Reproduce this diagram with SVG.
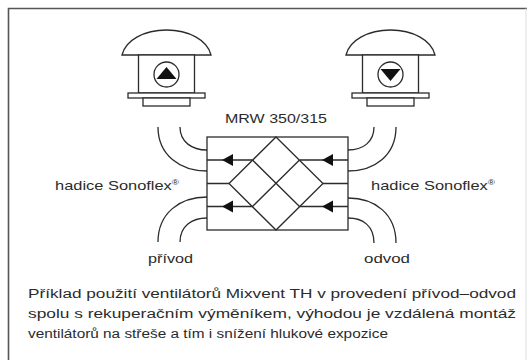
<svg xmlns="http://www.w3.org/2000/svg" width="527" height="360" viewBox="0 0 527 360">
  <style>
    .ln { fill: none; stroke: #2b2b2b; stroke-width: 1.3; }
    .sh { fill: #ffffff; stroke: #2b2b2b; stroke-width: 1.3; }
    .tx { font-family: "Liberation Sans", Arial, sans-serif; fill: #2b2b2b; }
    .arr { fill: #111111; stroke: none; }
  </style>
  <defs>
    <!-- roof fan housing, drawn around its own centre line x=0 -->
    <g id="fanBody">
      <path class="sh" d="M-44.5,55 C-41,40 -22,30 0,30 C22,30 41,40 44.5,55 Z"/>
      <rect class="sh" x="-28" y="55" width="56" height="38"/>
      <rect class="sh" x="-38.5" y="93" width="77" height="5"/>
      <rect class="sh" x="-23.5" y="98" width="47" height="8"/>
      <circle class="sh" cx="0" cy="74.5" r="12.5"/>
    </g>
  </defs>

  <rect width="527" height="360" fill="#ffffff"/>

  <!-- outer frame -->
  <path d="M8.5,360 V8.5 H527" fill="none" stroke="#555555" stroke-width="1.6"/>
  <path d="M526,8.5 V360" fill="none" stroke="#dddddd" stroke-width="1"/>

  <!-- supply fan on the roof -->
  <g id="fan-supply" transform="translate(166.5,0)">
    <use href="#fanBody"/>
    <path class="arr" d="M0,67 L10,79 L-10,79 Z"/>
  </g>

  <!-- exhaust fan on the roof -->
  <g id="fan-exhaust" transform="translate(390.5,0)">
    <use href="#fanBody"/>
    <path class="arr" d="M-10,69 L10,69 L0,81 Z"/>
  </g>

  <!-- heat recovery exchanger -->
  <g id="exchanger">
    <rect class="sh" x="207" y="137" width="141" height="93"/>
    <!-- plate pack -->
    <path class="ln" d="M276,137 L323,183.5 L276,230 L229,183.5 Z"/>
    <path class="ln" d="M252.5,160 L299.5,206.5 M299.5,160 L252.5,206.5"/>
    <!-- air channels -->
    <path class="ln" d="M207,160 H252.5 M299.5,160 H348 M207,206.5 H252.5 M299.5,206.5 H348 M207,183.5 H229 M323,183.5 H348"/>
    <!-- flow direction -->
    <path class="arr" d="M222,160 L233,154 L233,166 Z"/>
    <path class="arr" d="M222,206.5 L233,200.5 L233,212.5 Z"/>
    <path class="arr" d="M322,160 L333,154 L333,166 Z"/>
    <path class="arr" d="M322,206.5 L333,200.5 L333,212.5 Z"/>
    <text class="tx" x="225" y="123" font-size="13" textLength="102" lengthAdjust="spacingAndGlyphs">MRW 350/315</text>
  </g>

  <!-- flexible hoses -->
  <g id="hoses">
    <path class="ln" d="M180,127 C180,142 192,150 207,150"/>
    <path class="ln" d="M158,127 C158,155 180,171 207,171"/>
    <path class="ln" d="M207,197 C180,197 158,213 158,242"/>
    <path class="ln" d="M207,218 C192,218 180,226 180,242"/>
    <path class="ln" d="M348,150 C363,150 374,142 374,127"/>
    <path class="ln" d="M348,171 C375,171 396,155 396,127"/>
    <path class="ln" d="M348,198 C375,198 396,214 396,243"/>
    <path class="ln" d="M348,218 C363,218 374,226 374,243"/>
  </g>

  <!-- labels -->
  <g id="labels">
    <text class="tx" x="55" y="190" font-size="13.5" textLength="124" lengthAdjust="spacingAndGlyphs">hadice Sonoflex<tspan font-size="8" dy="-5">®</tspan></text>
    <text class="tx" x="371" y="190" font-size="13.5" textLength="124" lengthAdjust="spacingAndGlyphs">hadice Sonoflex<tspan font-size="8" dy="-5">®</tspan></text>
    <text class="tx" x="148" y="263" font-size="13.5" textLength="45" lengthAdjust="spacingAndGlyphs">přívod</text>
    <text class="tx" x="364" y="263" font-size="13.5" textLength="46" lengthAdjust="spacingAndGlyphs">odvod</text>
  </g>

  <!-- caption -->
  <g id="caption" class="tx" font-size="12.5">
    <text x="28" y="298" textLength="488" lengthAdjust="spacingAndGlyphs">Příklad použití ventilátorů Mixvent TH v provedení přívod–odvod</text>
    <text x="28" y="318" textLength="488" lengthAdjust="spacingAndGlyphs">spolu s rekuperačním výměníkem, výhodou je vzdálená montáž</text>
    <text x="28" y="338" textLength="360" lengthAdjust="spacingAndGlyphs">ventilátorů na střeše a tím i snížení hlukové expozice</text>
  </g>
</svg>
